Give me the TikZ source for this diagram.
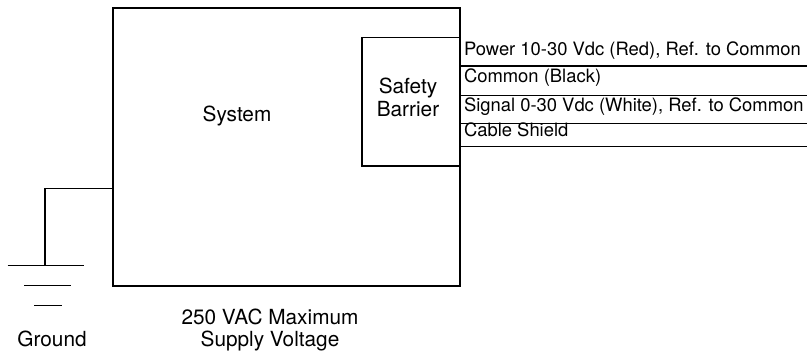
\documentclass[tikz,border=0pt]{standalone}
\usepackage{fontspec}
\setmainfont{TeX Gyre Heros}
\begin{document}
\begin{tikzpicture}[x=1pt,y=-1pt,line width=1.1pt,
  box/.style={draw, rectangle, inner sep=0pt, outer sep=0pt},
  biglabel/.style={inner sep=0pt, anchor=base, font=\fontsize{20.8}{24}\selectfont},
  wirelabel/.style={inner sep=0pt, anchor=base west, font=\fontsize{18.4}{22}\selectfont},
  wire/.style={draw, line width=1.1pt}]
\useasboundingbox (0,0) rectangle (807,355);
% boxes
\node[box, minimum width=347pt, minimum height=278pt] (sys) at (286.5,147) {};
\node[box, minimum width=98pt, minimum height=128.3pt] (bar) at (411,101.85) {};
% labels in boxes
\node[biglabel] (systxt) at (237,121.7) {System};
\node[biglabel] (bartxt1) at (408,93.5) {Safety};
\node[biglabel] (bartxt2) at (408,117) {Barrier};
% wires
\coordinate (w1) at (807,66);
\coordinate (w2) at (807,95.7);
\coordinate (w3) at (807,123.3);
\coordinate (w4) at (807,146.7);
\draw[wire] (sys.east |- w1) -- (w1);
\draw[wire] (sys.east |- w2) -- (w2);
\draw[wire] (sys.east |- w3) -- (w3);
\draw[wire] (sys.east |- w4) -- (w4);
\node[wirelabel] (l1) at (463.5,55.5) {Power 10-30 Vdc (Red), Ref. to Common};
\node[wirelabel] (l2) at (463.5,83) {Common (Black)};
\node[wirelabel] (l3) at (463.5,111.5) {Signal 0-30 Vdc (White), Ref. to Common};
\node[wirelabel] (l4) at (463.5,137) {Cable Shield};
% ground
\coordinate (gy) at (0,188.7);
\coordinate (gnd) at (45,265.7);
\draw[wire] (sys.west |- gy) -| (gnd);
\coordinate (g1a) at (7.7,265.7);  \coordinate (g1b) at (84.3,265.7);
\coordinate (g2a) at (24.3,285.7); \coordinate (g2b) at (70.7,285.7);
\coordinate (g3a) at (34.3,305.7); \coordinate (g3b) at (62.3,305.7);
\draw[wire] (g1a) -- (g1b);
\draw[wire] (g2a) -- (g2b);
\draw[wire] (g3a) -- (g3b);
\node[biglabel] (gtxt) at (52,347) {Ground};
\node[biglabel] (vtxt1) at (270,325) {250 VAC Maximum};
\node[biglabel] (vtxt2) at (270,347) {Supply Voltage};
\end{tikzpicture}
\end{document}
